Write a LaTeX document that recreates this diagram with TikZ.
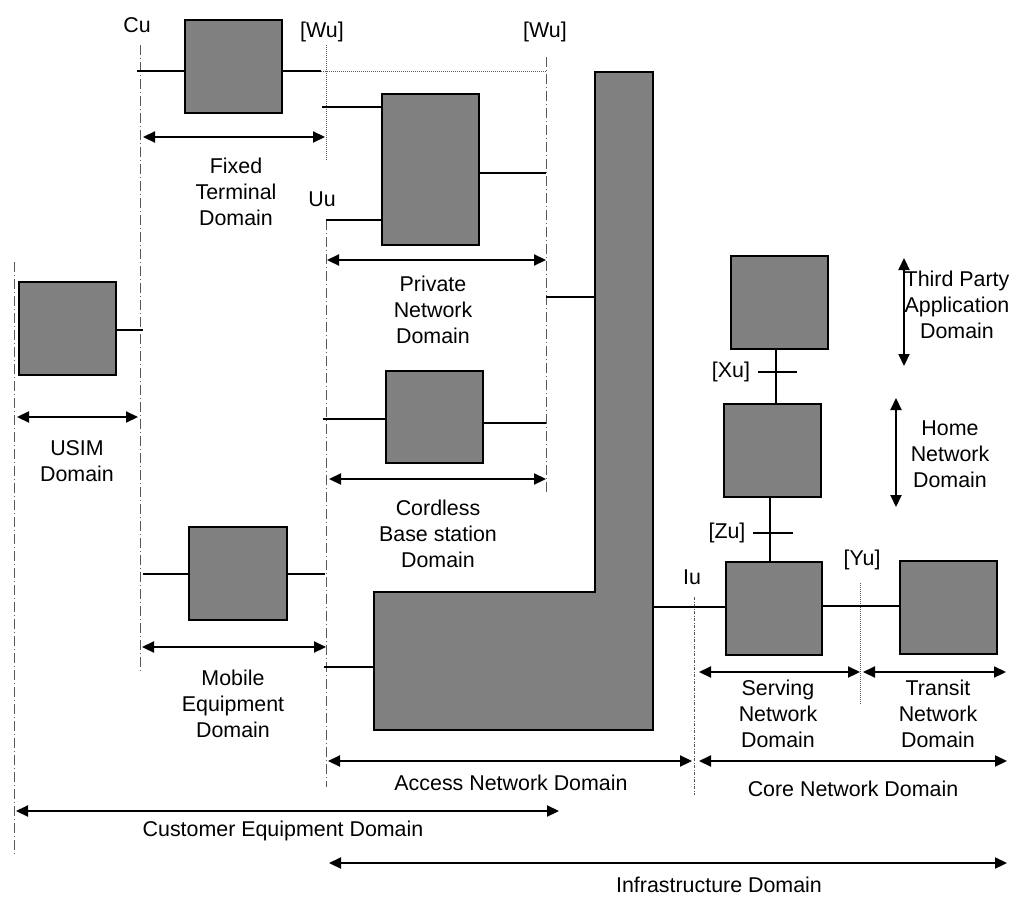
\documentclass[tikz,border=0pt]{standalone}
\usepackage{fontspec}
\setmainfont{Liberation Sans}
\usetikzlibrary{arrows.meta,calc}
\tikzset{
  box/.style={draw=black, line width=2pt, fill=gray50, inner sep=0pt},
  bound/.style={draw=black!65, line width=0.9pt, dash pattern=on 10pt off 3pt on 1pt off 3pt},
  fine/.style={draw=black!65, line width=0.9pt, dash pattern=on 1pt off 1pt},
  link/.style={draw=black, line width=1.8pt},
  dom/.style={{Triangle[length=12pt,width=11pt]}-{Triangle[length=12pt,width=11pt]}, line width=2.2pt},
  lab/.style={font=\fontsize{21.4}{26}\selectfont, align=center, inner sep=0pt}
}
\definecolor{gray50}{HTML}{808080}
\begin{document}
\begin{tikzpicture}[x=1pt,y=-1pt]
\useasboundingbox (0,0) rectangle (1013,897);

% domain boundaries
\coordinate (usimT) at (14,262);   \coordinate (usimB) at (14,855);
\coordinate (cuT) at (140,45);     \coordinate (cuB) at (140,673);
\coordinate (wuLT) at (326,45);    \coordinate (wuLB) at (326,160);
\coordinate (uuT) at (326,220);    \coordinate (uuB) at (326,787);
\coordinate (wuRT) at (546,57);    \coordinate (wuRB) at (546,492);
\coordinate (iuT) at (694,597);    \coordinate (iuB) at (694,795);
\coordinate (yuT) at (860,583);    \coordinate (yuB) at (860,705);
\draw[bound] (usimT) -- (usimB);
\draw[bound] (cuT) -- (cuB);
\draw[fine] (wuLT) -- (wuLB);
\draw[bound] (uuT) -- (uuB);
\draw[bound] (wuRT) -- (wuRB);
\draw[fine, dash pattern=on 3pt off 1.5pt on 1pt off 1.5pt] (iuT) -- (iuB);
\draw[fine] (yuT) -- (yuB);

% reference point labels
\node[lab] (cu) at (137,25) {Cu};
\node[lab] (wu1) at (322,32) {[Wu]};
\node[lab] (wu2) at (545,32) {[Wu]};
\node[lab] (uu) at (322,199) {Uu};
\node[lab] (iu) at (692,577) {Iu};
\node[lab] (yu) at (862,560) {[Yu]};
\node[lab] (xul) at (731,372) {[Xu]};
\node[lab] (zul) at (727,533) {[Zu]};

% equipment boxes
\node[box, minimum width=97pt, minimum height=93pt] (fixed) at (233.5,66.5) {};
\node[box, minimum width=97pt, minimum height=151pt] (private) at (430.5,169.5) {};
\node[box, minimum width=97pt, minimum height=93pt] (usim) at (67.5,328.5) {};
\node[box, minimum width=97pt, minimum height=92pt] (cordless) at (434.5,417) {};
\node[box, minimum width=98pt, minimum height=93pt] (mobile) at (238,573.5) {};
\node[box, minimum width=97pt, minimum height=93pt] (third) at (779.5,302.5) {};
\node[box, minimum width=97pt, minimum height=93pt] (home) at (772.5,450.5) {};
\node[box, minimum width=96pt, minimum height=93pt] (serving) at (774,608.5) {};
\node[box, minimum width=97pt, minimum height=93pt] (transit) at (948.5,607.5) {};

% access network (L-shaped block)
\coordinate (anA) at (374,592); \coordinate (anB) at (595,592);
\coordinate (anC) at (595,72);  \coordinate (anD) at (653,72);
\coordinate (anE) at (653,730); \coordinate (anF) at (374,730);
\draw[box] (anA) -- (anB) -- (anC) -- (anD) -- (anE) -- (anF) -- cycle;

% interface ends
\coordinate (fxL) at (137,71);  \coordinate (fxR) at (321,71);
\coordinate (wuEnd) at (547,71);
\coordinate (pvA) at (322,107); \coordinate (pvB) at (326,220);
\coordinate (pvR) at (546,173);
\coordinate (usR) at (143,330);
\coordinate (cdL) at (323,419); \coordinate (cdR) at (546,423);
\coordinate (mbL) at (143,574); \coordinate (mbR) at (325,574);
\coordinate (acL) at (324,667);
\coordinate (brL) at (546,297);
\coordinate (srv) at (653,607);
\coordinate (yuL) at (822,606);
\coordinate (xu) at (776,372);
\coordinate (zu) at (770,533);

% connectors
\draw[link] (fxL) -- (fxL -| fixed.west);
\draw[link] (fixed.east |- fxR) -- (fxR);
\draw[fine] (fxR) -- (wuEnd);
\draw[link] (pvA) -- (pvA -| private.west);
\draw[link] (pvB) -- (pvB -| private.west);
\draw[link] (private.east |- pvR) -- (pvR);
\draw[link] (usim.east |- usR) -- (usR);
\draw[link] (cdL) -- (cdL -| cordless.west);
\draw[link] (cordless.east |- cdR) -- (cdR);
\draw[link] (mbL) -- (mbL -| mobile.west);
\draw[link] (mobile.east |- mbR) -- (mbR);
\draw[link] (acL) -- (acL -| anA);
\draw[link] (brL) -- (brL -| anB);
\draw[link] (srv) -- (srv -| serving.west);
\draw[link] (yuL) -- (yuL -| transit.west);
\draw[link] (xu |- third.south) -- (xu |- home.north);
\draw[link] ($(xu)+(-18,0)$) -- ($(xu)+(21,0)$);
\draw[link] (zu |- home.south) -- (zu |- serving.north);
\draw[link] ($(zu)+(-17,0)$) -- ($(zu)+(23,0)$);

% domain extents
\coordinate (a1) at (143,137); \coordinate (a2) at (325,137);
\coordinate (b1) at (17,417);  \coordinate (b2) at (138,417);
\coordinate (c1) at (327,260); \coordinate (c2) at (546,260);
\coordinate (d1) at (329,479); \coordinate (d2) at (546,479);
\coordinate (e1) at (142,647); \coordinate (e2) at (326,647);
\coordinate (f1) at (328,761); \coordinate (f2) at (692,761);
\coordinate (g1) at (16,811);  \coordinate (g2) at (559,811);
\coordinate (h1) at (699,672); \coordinate (h2) at (860,672);
\coordinate (i1) at (863,672); \coordinate (i2) at (1006,672);
\coordinate (j1) at (699,761); \coordinate (j2) at (1007,761);
\coordinate (k1) at (329,863); \coordinate (k2) at (1007,863);
\coordinate (m1) at (904,258); \coordinate (m2) at (904,366);
\coordinate (n1) at (896,398); \coordinate (n2) at (896,507);
\draw[dom] (a1) -- (a2);
\draw[dom] (b1) -- (b2);
\draw[dom] (c1) -- (c2);
\draw[dom] (d1) -- (d2);
\draw[dom] (e1) -- (e2);
\draw[dom] (f1) -- (f2);
\draw[dom] (g1) -- (g2);
\draw[dom] (h1) -- (h2);
\draw[dom] (i1) -- (i2);
\draw[dom] (j1) -- (j2);
\draw[dom] (k1) -- (k2);
\draw[dom] (m1) -- (m2);
\draw[dom] (n1) -- (n2);

% domain names
\node[lab] (tFixed) at (236,192) {Fixed\\Terminal\\Domain};
\node[lab] (tPriv) at (433,310) {Private\\Network\\Domain};
\node[lab] (tUsim) at (77,461) {USIM\\Domain};
\node[lab] (tCord) at (438,534) {Cordless\\Base station\\Domain};
\node[lab] (tMob) at (233,704) {Mobile\\Equipment\\Domain};
\node[lab] (tThird) at (957,305) {Third Party\\Application\\Domain};
\node[lab] (tHome) at (950,454) {Home\\Network\\Domain};
\node[lab] (tServ) at (778,714) {Serving\\Network\\Domain};
\node[lab] (tTrans) at (938,714) {Transit\\Network\\Domain};
\node[lab] (tAcc) at (511,783) {Access Network Domain};
\node[lab] (tCore) at (853,789) {Core Network Domain};
\node[lab] (tCust) at (283,831) {Customer Equipment Domain};
\node[lab] (tInfra) at (719,885) {Infrastructure Domain};
\end{tikzpicture}
\end{document}
